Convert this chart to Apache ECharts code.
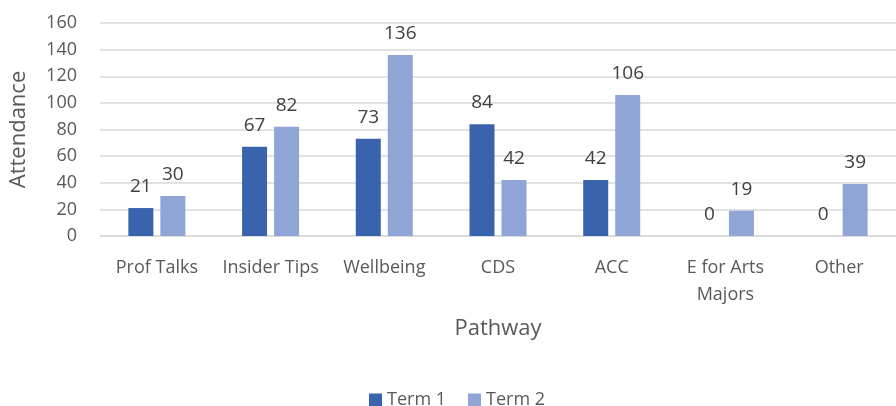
<!DOCTYPE html>
<html>
<head>
<meta charset="utf-8">
<script src="https://cdn.jsdelivr.net/npm/echarts@6/dist/echarts.min.js"></script>
<style>
  html, body { margin: 0; padding: 0; background: #fff; }
  #myChart { width: 896px; height: 406px; }
</style>
</head>
<body>
<div id="myChart"></div>
<script>
const pathways = ['Prof Talks', 'Insider Tips', 'Wellbeing', 'CDS', 'ACC', 'E for Arts\nMajors', 'Other'];
const term1 = [21, 67, 73, 84, 42, 0, 0];
const term2 = [30, 82, 136, 42, 106, 19, 39];
const yTicks = { min: 0, max: 160, interval: 20 };

const textColor = '#595959';
const fontFamily = '"Open Sans", "Liberation Sans", sans-serif';

let myChart = echarts.init(document.getElementById('myChart'));
myChart.setOption({
  animation: false,
  textStyle: { fontFamily: fontFamily, color: textColor },
  grid: { left: 98, top: 23, width: 811, height: 213 },
  legend: {
    left: 364,
    top: 386,
    itemWidth: 13,
    itemHeight: 13,
    itemGap: 22,
    icon: 'rect',
    textStyle: { color: textColor, fontSize: 18, fontFamily: fontFamily },
    data: ['Term 1', 'Term 2'],
  },
  xAxis: {
    type: 'category',
    data: pathways,
    name: 'Pathway',
    nameLocation: 'middle',
    nameGap: 82,
    nameTextStyle: { color: textColor, fontSize: 22, fontFamily: fontFamily },
    axisLine: { lineStyle: { color: '#d9d9d9', width: 1.5 } },
    axisTick: { show: false },
    axisLabel: { color: textColor, fontSize: 18, margin: 18, lineHeight: 27, interval: 0 },
  },
  yAxis: {
    type: 'value',
    min: yTicks.min,
    max: yTicks.max,
    interval: yTicks.interval,
    name: 'Attendance',
    nameLocation: 'middle',
    nameGap: 70,
    nameTextStyle: { color: textColor, fontSize: 22, fontFamily: fontFamily },
    axisLine: { show: false },
    axisTick: { show: false },
    axisLabel: { color: textColor, fontSize: 18, margin: 23 },
    splitLine: { lineStyle: { color: '#d9d9d9', width: 1.5 } },
  },
  series: [
    {
      name: 'Term 1',
      type: 'bar',
      data: term1,
      barWidth: 25,
      barGap: '28%',
      itemStyle: { color: '#3A63AD' },
      label: { show: true, position: 'top', distance: 12, color: '#404040', fontSize: 19 },
    },
    {
      name: 'Term 2',
      type: 'bar',
      data: term2,
      barWidth: 25,
      itemStyle: { color: '#8FA5D6' },
      label: { show: true, position: 'top', distance: 12, color: '#404040', fontSize: 19 },
    },
  ],
});
</script>
</body>
</html>
